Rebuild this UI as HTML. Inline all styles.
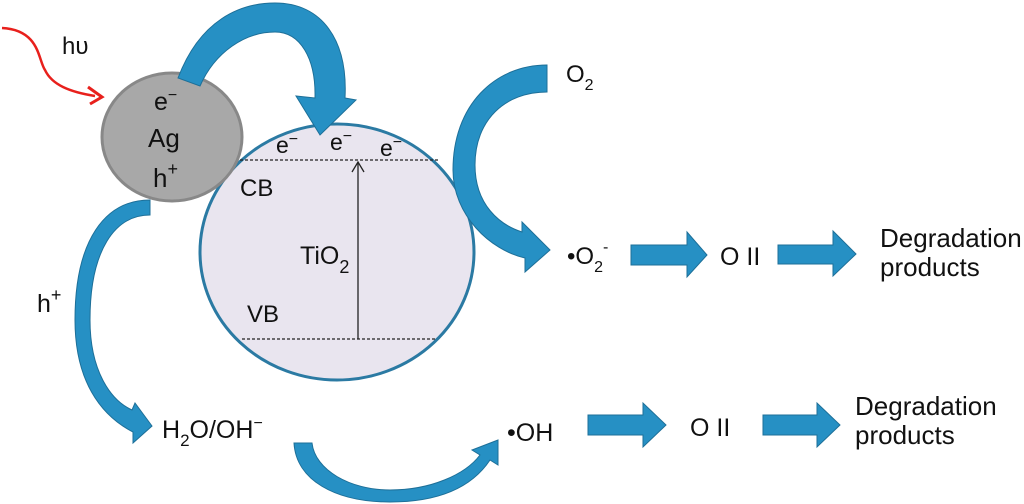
<!DOCTYPE html>
<html><head><meta charset="utf-8"><style>
html,body{margin:0;padding:0;background:#fff;}
svg{display:block;}
text{font-family:"Liberation Sans",sans-serif;fill:#111;}
</style></head><body>
<svg width="1024" height="504" viewBox="0 0 1024 504" xmlns="http://www.w3.org/2000/svg">
<ellipse cx="337" cy="252" rx="137" ry="128" fill="#e9e5ef" stroke="#2b7aa3" stroke-width="3"/>
<line x1="240" y1="160" x2="440" y2="160" stroke="#222" stroke-width="1.2" stroke-dasharray="3,2"/>
<line x1="242" y1="339" x2="436" y2="339" stroke="#222" stroke-width="1.2" stroke-dasharray="3,2"/>
<line x1="358" y1="339" x2="358" y2="163" stroke="#222" stroke-width="1.3"/>
<polyline points="352,172 358,162 364,172" fill="none" stroke="#222" stroke-width="1.3"/>
<ellipse cx="172" cy="137" rx="70" ry="64" fill="#a8a8a8" stroke="#888" stroke-width="3"/>
<path d="M2,28 C40,30 38,60 45,70 C52,85 70,92 95,96" fill="none" stroke="#e8201c" stroke-width="2.5"/>
<polyline points="88,87 102,97 90,104" fill="none" stroke="#e8201c" stroke-width="3"/>
<g fill="#2690c4" stroke="#1d6f98" stroke-width="1">
<path d="M178,78 C200,20 240,3 275,3 C322,3 348,40 345,98 L356,100 L320,135 L296,96 L315,98 C316,58 300,32 275,32 C245,32 215,52 200,86 Z"/>
<path d="M547,65 L547,92 C505,92 475,120 475,165 C475,205 500,225 522,232 L522,222 L550,250 L525,272 L525,258 C490,250 453,215 453,170 C453,105 495,65 547,65 Z"/>
<path d="M150,200 L150,215 C115,215 90,250 90,320 C90,370 110,400 132,410 L135,403 L152,426 L133,443 L133,432 C100,415 75,380 75,320 C75,240 105,200 150,200 Z"/>
<path d="M294,443 L312,443 C315,470 350,490 390,490 C430,490 465,475 480,455 L472,450 L498,440 L498,465 L490,460 C470,490 435,502 390,502 C335,502 296,480 294,443 Z"/>
<path d="M631,245 L687,245 L687,232 L707,255 L687,277 L687,265 L631,265 Z"/>
<path d="M778,245 L833,245 L833,231 L856,254 L833,276 L833,264 L778,264 Z"/>
<path d="M588,415 L643,415 L643,403 L666,425 L643,447 L643,435 L588,435 Z"/>
<path d="M763,415 L817,415 L817,403 L840,425 L817,447 L817,435 L763,435 Z"/>
</g>
<text x="62" y="54" font-size="24">hυ</text>
<text x="154" y="110" font-size="25">e<tspan dy="-10" font-size="16">−</tspan></text>
<text x="148" y="147" font-size="26">Ag</text>
<text x="153" y="187" font-size="26">h<tspan dy="-12" font-size="18">+</tspan></text>
<text x="276" y="153" font-size="23">e<tspan dy="-9" font-size="16">−</tspan></text>
<text x="330" y="150" font-size="23">e<tspan dy="-9" font-size="16">−</tspan></text>
<text x="380" y="156" font-size="23">e<tspan dy="-9" font-size="16">−</tspan></text>
<text x="240" y="196" font-size="24">CB</text>
<text x="300" y="264" font-size="25">TiO<tspan dy="9" font-size="18">2</tspan></text>
<text x="247" y="322" font-size="24">VB</text>
<text x="566" y="82" font-size="24">O<tspan dy="8" font-size="16">2</tspan></text>
<text x="567" y="264" font-size="24">•O<tspan dy="8" font-size="16">2</tspan><tspan dy="-20" font-size="16">-</tspan></text>
<text x="720" y="265" font-size="25">O II</text>
<text x="880" y="247" font-size="26">Degradation</text>
<text x="880" y="276" font-size="26">products</text>
<text x="37" y="312" font-size="25">h<tspan dy="-11" font-size="18">+</tspan></text>
<text x="162" y="438" font-size="25">H<tspan dy="8" font-size="17">2</tspan><tspan dy="-8">O/OH</tspan><tspan dy="-10" font-size="16">−</tspan></text>
<text x="507" y="441" font-size="25">•OH</text>
<text x="690" y="436" font-size="25">O II</text>
<text x="855" y="415" font-size="26">Degradation</text>
<text x="855" y="444" font-size="26">products</text>
</svg>
</body></html>
